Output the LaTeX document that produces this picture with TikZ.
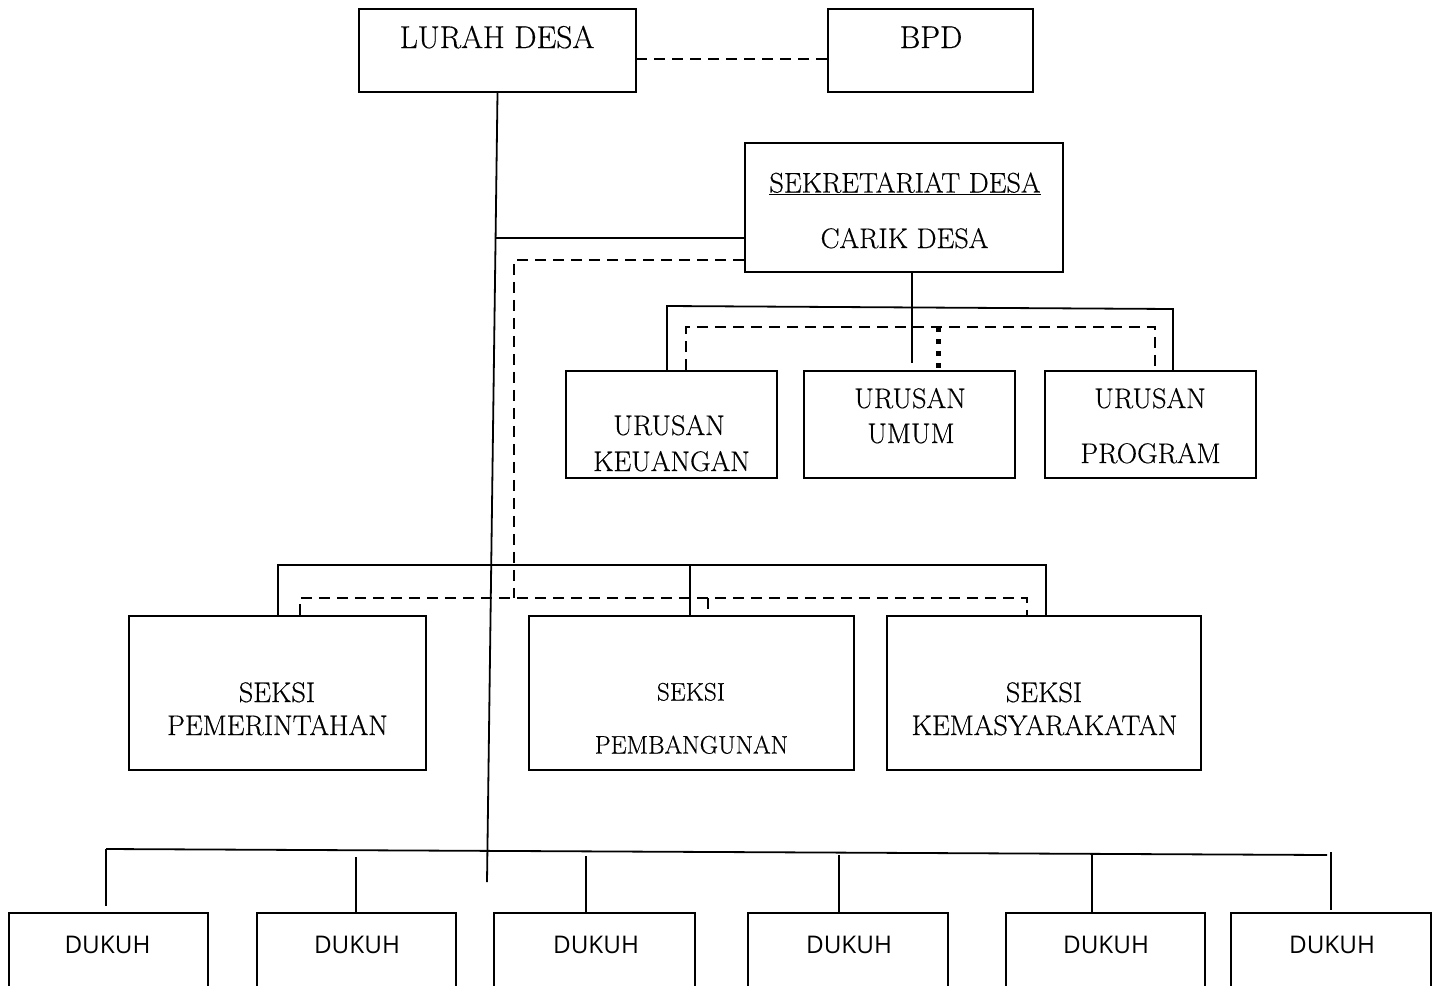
\documentclass[tikz,border=0pt]{standalone}
\usepackage{fontspec}
\setmainfont{Latin Modern Roman}[FakeBold=0.4]
\newfontfamily\dukuhfont{Open Sans}
\tikzset{
  box/.style={draw, line width=1.8pt, inner sep=0pt},
  lbl/.style={anchor=base, inner sep=0pt, font=\fontsize{28.3}{32}\selectfont},
  biglbl/.style={anchor=base, inner sep=0pt, font=\fontsize{31.5}{36}\selectfont},
  smalllbl/.style={anchor=base, inner sep=0pt, font=\fontsize{25.3}{30}\selectfont},
  duklbl/.style={anchor=base, inner sep=0pt, font=\dukuhfont\fontsize{24.3}{28}\selectfont},
  conn/.style={line width=1.8pt},
  dashline/.style={line width=2.2pt, dash pattern=on 11pt off 7pt},
  dotline/.style={line width=5pt, dash pattern=on 5pt off 7pt},
}
\begin{document}
\begin{tikzpicture}[x=1pt,y=-1pt]
\useasboundingbox[fill=white] (0,0) rectangle (1439,985);
\clip (0,0) rectangle (1439,985);

% top boxes
\node[box, minimum width=277pt, minimum height=83pt] (lurah) at (497.5,50.5) {};
\node[box, minimum width=205pt, minimum height=83pt] (bpd) at (930.5,50.5) {};
\node[biglbl] (tlurah) at (497,48) {LURAH DESA};
\node[biglbl] (tbpd) at (931,48) {BPD};

% sekretariat
\node[box, minimum width=318pt, minimum height=129pt] (sek) at (904,207.5) {};
\node[lbl] (tsek) at (905,192.5) {\underline{SEKRETARIAT DESA}};
\node[lbl] (tcarik) at (904.5,248) {CARIK DESA};

% urusan
\node[box, minimum width=211pt, minimum height=107pt] (keu) at (671.5,424.5) {};
\node[box, minimum width=211pt, minimum height=107pt] (umum) at (909.5,424.5) {};
\node[box, minimum width=211pt, minimum height=107pt] (prog) at (1150.5,424.5) {};
\node[lbl] (tkeu1) at (669,435) {URUSAN};
\node[lbl] (tkeu2) at (671.5,471) {KEUANGAN};
\node[lbl] (tumum1) at (910,408) {URUSAN};
\node[lbl] (tumum2) at (911,443) {UMUM};
\node[lbl] (tprog1) at (1150,408) {URUSAN};
\node[lbl] (tprog2) at (1150.5,463) {PROGRAM};

% seksi
\node[box, minimum width=297pt, minimum height=154pt] (pem) at (277.5,693) {};
\node[box, minimum width=325pt, minimum height=154pt] (pmb) at (691.5,693) {};
\node[box, minimum width=314pt, minimum height=154pt] (kem) at (1044,693) {};
\node[lbl] (tpem1) at (277,702) {SEKSI};
\node[lbl] (tpem2) at (277.5,735) {PEMERINTAHAN};
\node[smalllbl] (tpmb1) at (691,700.5) {SEKSI};
\node[smalllbl] (tpmb2) at (691.5,753.5) {PEMBANGUNAN};
\node[lbl] (tkem1) at (1044,702) {SEKSI};
\node[lbl] (tkem2) at (1044.5,735) {KEMASYARAKATAN};

% dukuh
\node[box, minimum width=199pt, minimum height=100pt] (d1) at (108.5,963) {};
\node[box, minimum width=199pt, minimum height=100pt] (d2) at (356.5,963) {};
\node[box, minimum width=201pt, minimum height=100pt] (d3) at (594.5,963) {};
\node[box, minimum width=200pt, minimum height=100pt] (d4) at (848,963) {};
\node[box, minimum width=199pt, minimum height=100pt] (d5) at (1105.5,963) {};
\node[box, minimum width=200pt, minimum height=100pt] (d6) at (1331,963) {};
\node[duklbl] (td1) at (107.5,953) {DUKUH};
\node[duklbl] (td2) at (357,953) {DUKUH};
\node[duklbl] (td3) at (596,953) {DUKUH};
\node[duklbl] (td4) at (849,953) {DUKUH};
\node[duklbl] (td5) at (1106,953) {DUKUH};
\node[duklbl] (td6) at (1332,953) {DUKUH};

% connectors: top
\coordinate (lb) at (636,59);
\draw[dashline] (lb) -- (lb -| bpd.west);
\coordinate (mainend) at (487,882);
\draw[conn] (lurah.south) -- (mainend);
\coordinate (mj) at (495.6,238);
\draw[conn] (mj) -- (mj -| sek.west);

% sekretariat to urusan
\coordinate (uv) at (912,363);
\draw[conn] (uv |- sek.south) -- (uv);
\coordinate (ub1) at (667,306);
\coordinate (ub2) at (1173,309);
\draw[conn] (ub1 |- keu.north) -- (ub1) -- (ub2) -- (ub2 |- prog.north);
\coordinate (ud1) at (686,327);
\coordinate (ud2) at (1155,327);
\draw[dashline] (ud1 |- keu.north) -- (ud1) -- (ud2) -- (ud2 |- prog.north);
\coordinate (ud3) at (938,327);
\draw[dotline] (ud3) -- (ud3 |- umum.north);

% seksi
\coordinate (sb1) at (278,565);
\coordinate (sb2) at (1046,565);
\coordinate (sb3) at (690,565);
\draw[conn] (sb1 |- pem.north) -- (sb1) -- (sb2) -- (sb2 |- kem.north);
\draw[conn] (sb3) -- (sb3 |- pmb.north);
\coordinate (sd1) at (300,598);
\coordinate (sd2) at (1027,598);
\coordinate (sd3) at (708,598);
\draw[dashline] (sd1 |- pem.north) -- (sd1) -- (sd2) -- (sd2 |- kem.north);
\draw[dashline] (sd3) -- (sd3 |- pmb.north);
\coordinate (fd) at (514,260);
\draw[dashline] (fd -| sek.west) -- (fd) -- (fd |- sd1);

% dukuh connectors
\coordinate (dh1) at (106,849);
\coordinate (dh2) at (1327,855);
\coordinate (dv1) at (106,906);
\coordinate (dv2) at (356,857);
\coordinate (dv3) at (586,856);
\coordinate (dv4) at (839,855);
\coordinate (dv5) at (1092,855);
\coordinate (dv6) at (1331,852);
\coordinate (dv6e) at (1331,910);
\draw[conn] (dh1) -- (dh2);
\draw[conn] (dh1) -- (dv1);
\draw[conn] (dv2) -- (dv2 |- d2.north);
\draw[conn] (dv3) -- (dv3 |- d3.north);
\draw[conn] (dv4) -- (dv4 |- d4.north);
\draw[conn] (dv5) -- (dv5 |- d5.north);
\draw[conn] (dv6) -- (dv6e);
\end{tikzpicture}
\end{document}
